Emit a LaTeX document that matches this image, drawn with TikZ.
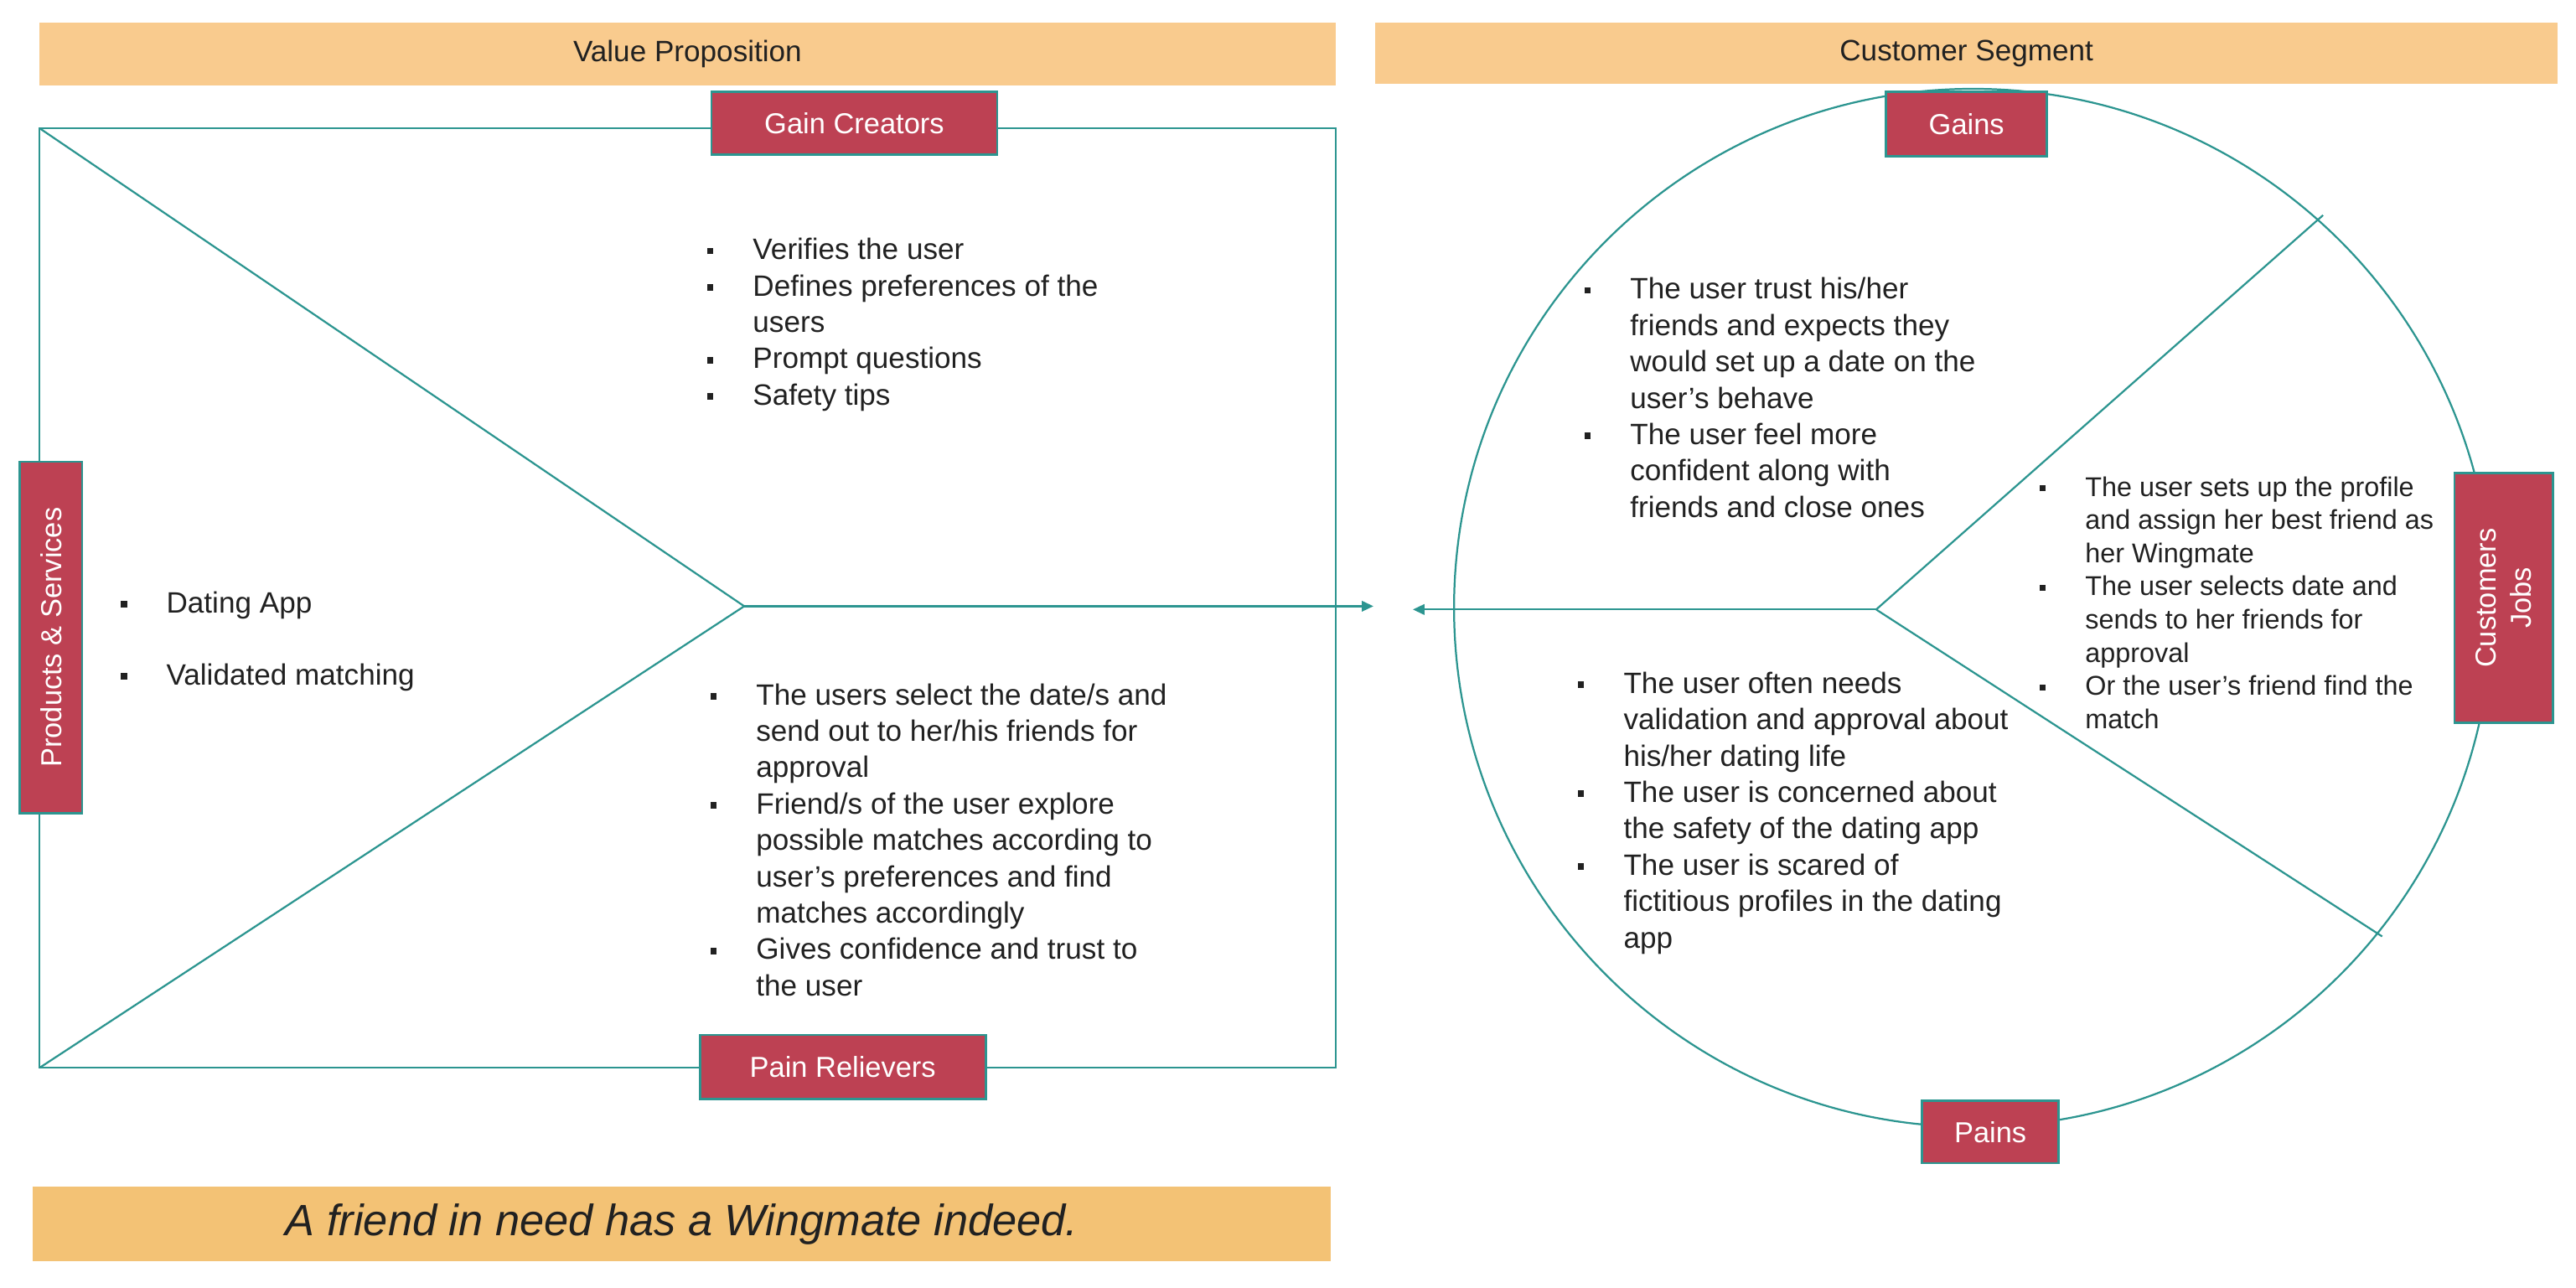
\documentclass[tikz,border=0pt]{standalone}
\usepackage{fontspec}
\setmainfont{Liberation Sans}
\usetikzlibrary{positioning, arrows.meta}
\definecolor{verde}{HTML}{2C9590}
\definecolor{rojo}{HTML}{BD4153}
\definecolor{franja}{HTML}{F9CB8E}
\definecolor{lema}{HTML}{F3C275}
\definecolor{tinta}{HTML}{212121}
\tikzset{linea/.style={draw=verde, line width=0.65pt},
  flecha/.style={linea, -{Triangle[length=4pt,width=3.6pt]}},
  etiqueta/.style={draw=verde, fill=rojo, text=white, line width=0.8pt, inner sep=0pt, font=\fontsize{10}{12}\selectfont},
  barra/.style={fill=franja, inner sep=0pt, text=tinta, font=\fontsize{10.2}{12}\selectfont},
  lista/.style={inner sep=0pt, anchor=base west, text=tinta, font=\fontsize{10.2}{12.6}\selectfont}}
\newcommand{\pto}{\rule[0.18em]{0.22em}{0.22em}}
\newcommand{\vineta}[1]{\begin{tabular}[t]{@{}p{15.9pt}@{}l@{}}#1\end{tabular}}

\begin{document}
\begin{tikzpicture}[x=0.02cm, y=-0.02cm]
\useasboundingbox (0,0) rectangle (1568,784);

% bandas de titulo
\node[barra, minimum width=15.78cm, minimum height=0.76cm] (vp) at (418.5,33) {Value Proposition};
\node[barra, minimum width=14.4cm, minimum height=0.74cm] (cs) at (1197,32.5) {Customer Segment};
\node[barra, fill=lema, minimum width=15.8cm, minimum height=0.9cm, font=\fontsize{15.2}{18}\itshape] (frase) at (415,745) {A friend in need has a Wingmate indeed.};

% propuesta de valor
\coordinate (si) at (24,78);
\coordinate (sd) at (813,78);
\coordinate (ii) at (24,650);
\coordinate (id) at (813,650);
\coordinate (vertice) at (453,369);
\coordinate (puntaA) at (836,369);
\draw[linea] (si) rectangle (id);
\draw[linea] (si) -- (vertice) -- (ii);
\draw[flecha] (vertice) -- (puntaA);

% segmento de clientes
\coordinate (centro) at (1201,370);
\coordinate (nudo) at (1142,371);
\coordinate (arriba) at (1414,131);
\coordinate (abajo) at (1450,570);
\coordinate (puntaB) at (860,371);
\draw[linea] (centro) circle[radius=6.32cm];
\draw[linea] (nudo) -- (arriba);
\draw[linea] (nudo) -- (abajo);
\draw[flecha] (nudo) -- (puntaB);

% etiquetas
\node[etiqueta, minimum width=3.48cm, minimum height=0.76cm] (gc) at (520,75) {Gain Creators};
\node[etiqueta, minimum width=3.48cm, minimum height=0.78cm] (pr) at (513,649.5) {Pain Relievers};
\node[etiqueta, rotate=90, minimum width=4.28cm, minimum height=0.76cm] (ps) at (31,388) {Products \& Services};
\node[etiqueta, minimum width=1.96cm, minimum height=0.78cm] (gains) at (1197,75.5) {Gains};
\node[etiqueta, minimum width=1.66cm, minimum height=0.76cm] (pains) at (1211.5,689) {Pains};
\node[etiqueta, rotate=90, align=center, minimum width=3.04cm, minimum height=1.2cm] (jobs) at (1524,364) {Customers\\Jobs};

% listas
\node[lista] (lgc) at (430,158) {\vineta{
\pto & Verifies the user\\
\pto & Defines preferences of the\\
 & users\\
\pto & Prompt questions\\
\pto & Safety tips}};
\node[lista] (lps) at (73,373) {\vineta{
\pto & Dating App\\[12.3pt]
\pto & Validated matching}};
\node[lista] (lpr) at (432,429) {\vineta{
\pto & The users select the date/s and\\
 & send out to her/his friends for\\
 & approval\\
\pto & Friend/s of the user explore\\
 & possible matches according to\\
 & user’s preferences and find\\
 & matches accordingly\\
\pto & Gives confidence and trust to\\
 & the user}};
\node[lista] (lgains) at (964,182) {\vineta{
\pto & The user trust his/her\\
 & friends and expects they\\
 & would set up a date on the\\
 & user’s behave\\
\pto & The user feel more\\
 & confident along with\\
 & friends and close ones}};
\node[lista, font=\fontsize{9.4}{11.5}\selectfont] (ljobs) at (1241,302) {\vineta{
\pto & The user sets up the profile\\
 & and assign her best friend as\\
 & her Wingmate\\
\pto & The user selects date and\\
 & sends to her friends for\\
 & approval\\
\pto & Or the user’s friend find the\\
 & match}};
\node[lista] (lpains) at (960,422) {\vineta{
\pto & The user often needs\\
 & validation and approval about\\
 & his/her dating life\\
\pto & The user is concerned about\\
 & the safety of the dating app\\
\pto & The user is scared of\\
 & fictitious profiles in the dating\\
 & app}};
\end{tikzpicture}
\end{document}
